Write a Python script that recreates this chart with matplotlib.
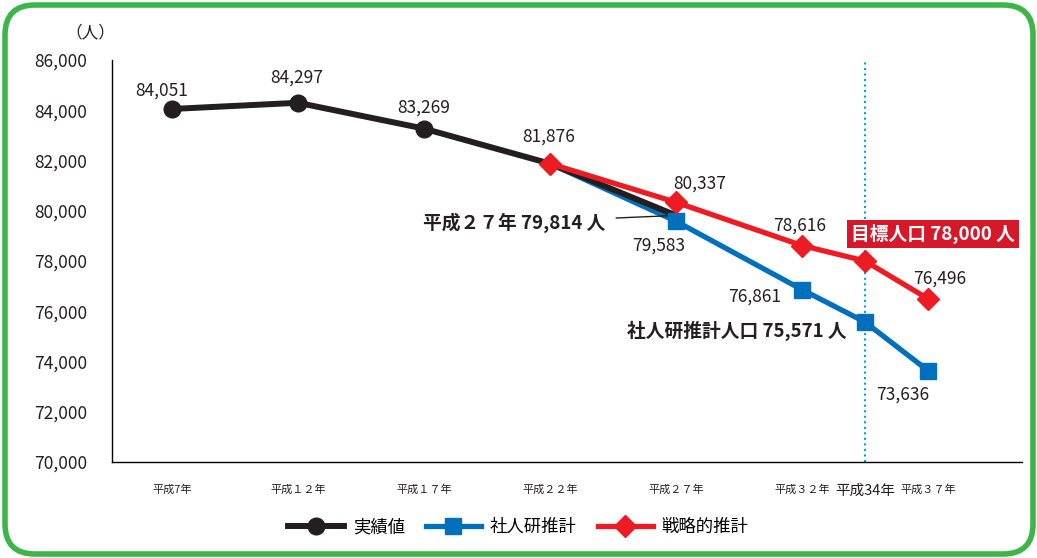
import matplotlib
matplotlib.use("Agg")
import matplotlib.pyplot as plt
from matplotlib.lines import Line2D
from matplotlib.patches import FancyBboxPatch

plt.rcParams['font.family'] = ['Noto Sans CJK JP', 'DejaVu Sans']

# x labels (平成34年 sits half way between 32 and 37)
x_labels = ["平成7年", "平成１２年", "平成１７年", "平成２２年", "平成２７年",
            "平成３２年", "平成34年", "平成３７年"]
x_pos = [0, 1, 2, 3, 4, 5, 5.5, 6]

# 実績値
actual_x = [0, 1, 2, 3, 4]
actual_y = [84051, 84297, 83269, 81876, 79814]
# 社人研推計
ipss_x = [3, 4, 5, 5.5, 6]
ipss_y = [81876, 79583, 76861, 75571, 73636]
# 戦略的推計
strat_x = [3, 4, 5, 5.5, 6]
strat_y = [81876, 80337, 78616, 78000, 76496]

BLACK = "#231f20"
BLUE = "#0070bd"
RED = "#ed1c24"
TXT = "#231f20"

fig = plt.figure(figsize=(10.37, 5.58), dpi=100)
ax = fig.add_axes([112/1037, 96/558, (1022-112)/1037, (462-60)/558])

# lines
ax.plot(ipss_x, ipss_y, color=BLUE, lw=3.8, zorder=2, solid_capstyle='butt')
ax.plot(actual_x, actual_y, color=BLACK, lw=4.3, zorder=3, solid_capstyle='butt')
ax.plot(strat_x, strat_y, color=RED, lw=3.8, zorder=4, solid_capstyle='butt')
# markers
ax.plot(actual_x[:3], actual_y[:3], ls='none', marker='o', ms=12, color=BLACK, zorder=5)
ax.plot(ipss_x[1:], ipss_y[1:], ls='none', marker='s', ms=11.5, color=BLUE, zorder=5)
ax.plot(strat_x, strat_y, ls='none', marker='D', ms=11, color=RED, zorder=6)

# target year line
ax.axvline(5.5, color="#00a0e9", ls=':', lw=1.5, zorder=1)

ax.set_xlim(-0.476, 6.746)
ax.set_ylim(70000, 86000)
ax.set_yticks(range(70000, 86001, 2000))
ax.set_yticklabels([f"{v:,}" for v in range(70000, 86001, 2000)], fontsize=12.5, color=TXT)
ax.set_xticks(x_pos)
ax.set_xticklabels(x_labels, fontsize=8, color=TXT)
for lab in ax.get_xticklabels():
    if lab.get_text() == "平成34年":
        lab.set_fontsize(10.5)
ax.tick_params(axis='both', length=0)
ax.tick_params(axis='y', pad=18)
ax.tick_params(axis='x', pad=16)
for s in ["top", "right"]:
    ax.spines[s].set_visible(False)
ax.spines["left"].set_linewidth(1)
ax.spines["bottom"].set_linewidth(1)

# value labels: (x, y, dx px, dy px)
labels = [
    (0, 84051, -10, 18), (1, 84297, -1, 25), (2, 83269, 0, 21), (3, 81876, -1, 27),
    (4, 80337, 24, 19), (4, 79583, -17, -24), (5, 78616, -2, 20), (5, 76861, -47, -7),
    (6, 76496, 12, 20), (6, 73636, -25, -24),
]
for x, y, dx, dy in labels:
    ax.annotate(f"{y:,}", (x, y), xytext=(dx, dy), textcoords='offset pixels',
                ha='center', va='center', fontsize=12.5, color=TXT)

ax.annotate("平成２７年 79,814 人", (4, 79814), xytext=(-71, -7), textcoords='offset pixels',
            ha='right', va='center', fontsize=13.5, fontweight='bold', color=TXT,
            arrowprops=dict(arrowstyle='-', color=TXT, lw=1, shrinkA=6, shrinkB=4))
ax.annotate("社人研推計人口 75,571 人", (5.5, 75571), xytext=(-18, -9), textcoords='offset pixels',
            ha='right', va='center', fontsize=13.5, fontweight='bold', color=TXT)
ax.annotate("目標人口 78,000 人", (5.5, 78000), xytext=(68, 27), textcoords='offset pixels',
            ha='center', va='center', fontsize=13.5, fontweight='bold', color='white',
            bbox=dict(boxstyle='square,pad=0.2', fc="#d7182a", ec='none'))

fig.text(90/1037, 1-33/558, "（人）", ha='center', va='center', fontsize=12, color=TXT)

# legend
handles = [
    Line2D([], [], color=BLACK, lw=4.3, marker='o', ms=12),
    Line2D([], [], color=BLUE, lw=3.8, marker='s', ms=11.5),
    Line2D([], [], color=RED, lw=3.8, marker='D', ms=11),
]
fig.legend(handles, ["実績値", "社人研推計", "戦略的推計"], loc='center',
           bbox_to_anchor=(0.5, 1-527/558), ncol=3, frameon=False, fontsize=12.5,
           numpoints=1, handlelength=3.2, columnspacing=1.2, handletextpad=0.5)

# green rounded frame
frame = FancyBboxPatch((0.05, 0.04), 10.28, 5.49, boxstyle="round,pad=0,rounding_size=0.3",
                       transform=fig.dpi_scale_trans, fc='none', ec="#3db54a", lw=4)
fig.patches.append(frame)

fig.savefig("out.png", dpi=100)
